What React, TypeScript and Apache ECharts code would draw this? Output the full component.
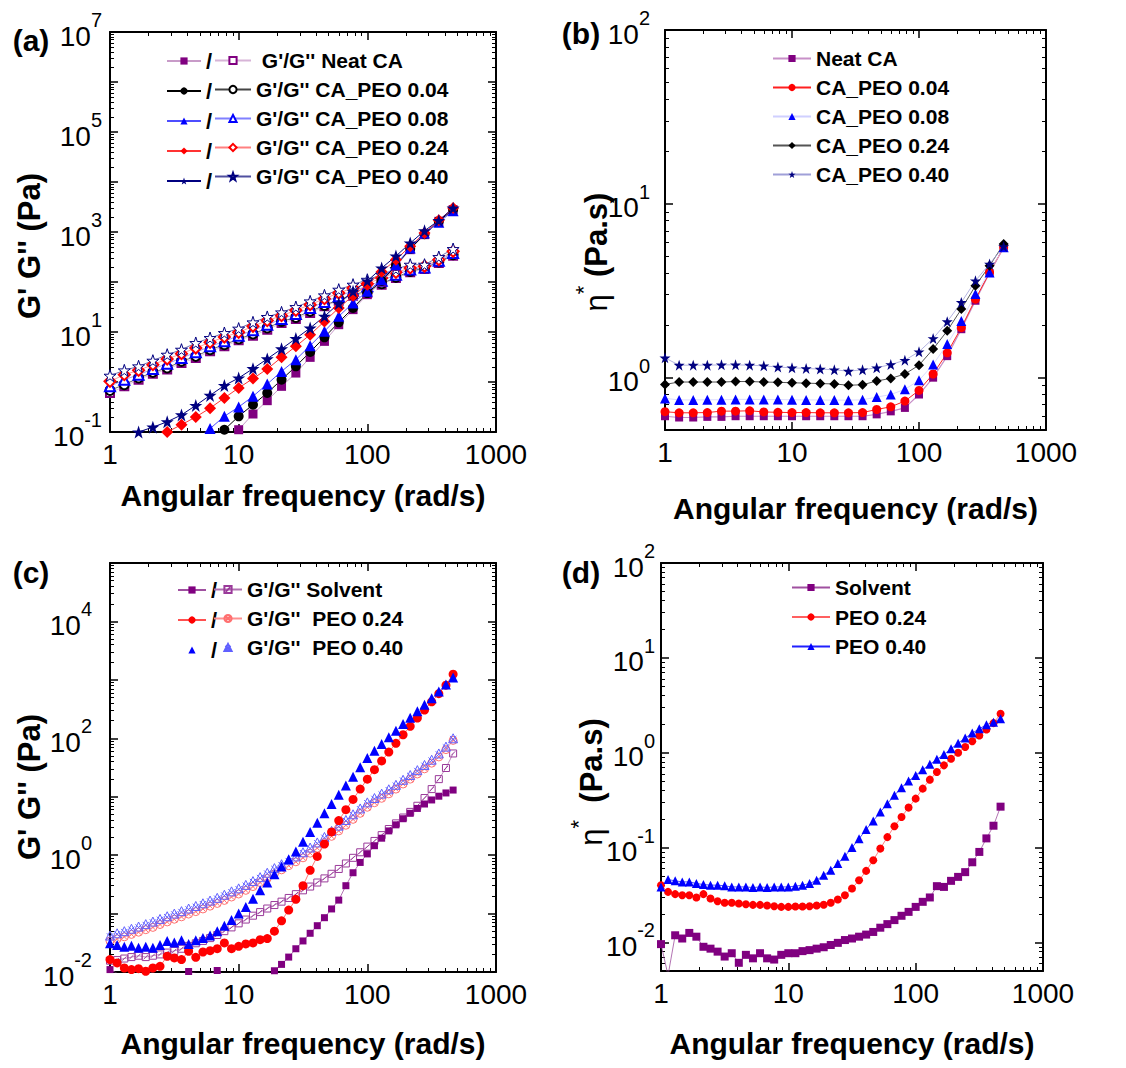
import React, { useEffect, useRef } from 'react';
import * as echarts from 'echarts';

// ---------- x values (rad/s) ----------
const freqAB = [1, 1.292, 1.668, 2.154, 2.783, 3.594, 4.642, 5.995, 7.743, 10, 12.92, 16.68, 21.54, 27.83, 35.94, 46.42, 59.95, 77.43, 100, 129.2, 166.8, 215.4, 278.3, 359.4, 464.2];
const freqCD = [1, 1.136, 1.292, 1.468, 1.668, 1.896, 2.154, 2.448, 2.783, 3.162, 3.594, 4.084, 4.642, 5.275, 5.995, 6.813, 7.743, 8.799, 10, 11.36, 12.92, 14.68, 16.68, 18.96, 21.54, 24.48, 27.83, 31.62, 35.94, 40.84, 46.42, 52.75, 59.95, 68.13, 77.43, 87.99, 100, 113.6, 129.2, 146.8, 166.8, 189.6, 215.4, 244.8, 278.3, 316.2, 359.4, 408.4, 464.2];

// ---------- (a) G' (filled) ----------
const aNeatGp = [null, null, null, null, null, null, null, null, 0.06, 0.111, 0.229, 0.423, 0.819, 1.51, 3.11, 6.5, 14.0, 28, 55.8, 100, 206, 443, 885, 1635, 2800];
const aP04Gp = [null, null, null, null, null, null, null, 0.06, 0.111, 0.206, 0.352, 0.603, 1.11, 2.06, 3.98, 7.82, 15.6, 30.2, 60, 105, 215, 460, 900, 1650, 2800];
const aP08Gp = [null, null, null, null, null, null, 0.07, 0.117, 0.206, 0.316, 0.517, 0.91, 1.63, 2.8, 5.33, 10.3, 20.6, 38, 65, 111, 222, 478, 955, 1560, 2650];
const aP24Gp = [null, null, null, 0.07, 0.1, 0.14, 0.2, 0.3, 0.48, 0.76, 1.17, 1.82, 3.11, 5.16, 8.84, 16.3, 30.2, 53.3, 88.4, 160, 280, 517, 955, 1710, 3020];
const aP40Gp = [null, 0.07, 0.1, 0.125, 0.16, 0.22, 0.34, 0.54, 0.85, 1.2, 1.85, 2.9, 4.6, 7.4, 12, 20.6, 37, 65, 105, 190, 330, 600, 1060, 1700, 3000];
// ---------- (a) G'' (hollow) ----------
const aNeatGpp = [0.6, 0.819, 1.11, 1.47, 1.77, 2.40, 3.02, 4.10, 5.16, 6.81, 8.45, 11.1, 15.1, 18.2, 24.0, 32.6, 42.4, 53.3, 60.3, 88.5, 120, 156, 182, 240, 336];
const aP04Gpp = [0.68, 0.885, 1.2, 1.56, 1.91, 2.59, 3.26, 4.43, 5.58, 7.24, 9.12, 12.0, 16.3, 19.6, 25.9, 34.1, 44.4, 55.8, 65.0, 92.7, 124, 163, 191, 251, 352];
const aP08Gpp = [0.819, 1.11, 1.40, 1.82, 2.33, 3.02, 3.92, 5.16, 6.5, 8.45, 10.8, 14.0, 18.2, 22.9, 30.2, 39.8, 51.6, 67.1, 81.8, 106, 140, 177, 196, 267, 380];
const aP24Gpp = [1.03, 1.40, 1.71, 2.22, 2.88, 3.69, 4.79, 6.21, 7.94, 9.84, 13.0, 16.9, 21.2, 27.1, 35.2, 46.4, 60.3, 75.9, 92.7, 120, 156, 191, 206, 280, 410];
const aP40Gpp = [1.34, 1.71, 2.06, 2.67, 3.52, 4.43, 6.03, 7.59, 9.55, 11.7, 15.6, 20.0, 24.7, 31.6, 41.0, 54.1, 70.3, 88.5, 111, 140, 182, 222, 222, 316, 457];

// ---------- (b) complex viscosity ----------
const bNeat = [0.60, 0.59, 0.59, 0.595, 0.595, 0.6, 0.6, 0.6, 0.6, 0.6, 0.6, 0.6, 0.6, 0.6, 0.6, 0.615, 0.64, 0.67, 0.8, 1.0, 1.33, 1.9, 2.77, 4.0, 5.6];
const bP04 = [0.637, 0.628, 0.628, 0.63, 0.642, 0.642, 0.645, 0.635, 0.632, 0.63, 0.63, 0.628, 0.628, 0.628, 0.63, 0.656, 0.68, 0.733, 0.845, 1.05, 1.39, 1.94, 2.83, 4.03, 5.62];
const bP08 = [0.76, 0.745, 0.745, 0.746, 0.746, 0.75, 0.75, 0.748, 0.748, 0.746, 0.745, 0.744, 0.743, 0.742, 0.746, 0.773, 0.80, 0.857, 0.965, 1.19, 1.56, 2.12, 3.03, 4.03, 5.62];
const bP24 = [0.915, 0.944, 0.944, 0.944, 0.944, 0.95, 0.95, 0.944, 0.94, 0.935, 0.93, 0.925, 0.92, 0.905, 0.91, 0.957, 0.99, 1.05, 1.18, 1.46, 1.86, 2.48, 3.38, 4.4, 5.88];
const bP40 = [1.30, 1.18, 1.18, 1.18, 1.185, 1.185, 1.18, 1.17, 1.15, 1.14, 1.13, 1.12, 1.11, 1.09, 1.11, 1.14, 1.19, 1.26, 1.41, 1.68, 2.10, 2.71, 3.61, 4.51, 5.68];

// ---------- (c) G' / G'' ----------
const cSolvGp = [0.011, 0.0095, 0.0085, 0.0088, 0.0078, 0.0092, 0.0098, 0.0082, 0.0075, 0.0095, 0.0088, 0.0102, 0.0095, 0.0085, 0.0092, 0.0106, 0.0088, 0.0078, 0.0072, 0.0068, 0.0065, 0.0075, 0.0085, 0.0105, 0.0135, 0.018, 0.025, 0.034, 0.046, 0.062, 0.085, 0.12, 0.17, 0.3, 0.5, 0.75, 1.05, 1.45, 1.95, 2.6, 3.3, 4.2, 5.2, 6.3, 7.5, 8.8, 10.2, 11.6, 13];
const cSolvGpp = [0.0156, 0.016, 0.017, 0.018, 0.019, 0.018, 0.019, 0.02, 0.0215, 0.023, 0.025, 0.028, 0.031, 0.034, 0.038, 0.043, 0.05, 0.058, 0.068, 0.079, 0.092, 0.106, 0.122, 0.14, 0.16, 0.185, 0.215, 0.25, 0.29, 0.34, 0.4, 0.48, 0.58, 0.72, 0.9, 1.12, 1.4, 1.75, 2.2, 2.8, 3.5, 4.4, 5.5, 7.0, 9.5, 13.5, 20, 31, 55];
const cP24Gp = [0.0163, 0.0143, 0.0117, 0.011, 0.0114, 0.0103, 0.0117, 0.0125, 0.0186, 0.0174, 0.0163, 0.0226, 0.0178, 0.022, 0.0232, 0.0251, 0.0314, 0.0251, 0.0275, 0.0302, 0.0314, 0.0358, 0.0373, 0.05, 0.075, 0.115, 0.175, 0.3, 0.55, 0.95, 1.55, 2.5, 3.9, 6.0, 9.0, 13.5, 20, 29, 41, 58, 82, 115, 160, 222, 305, 420, 580, 810, 1250];
const cP24Gpp = [0.034, 0.037, 0.04, 0.044, 0.048, 0.053, 0.058, 0.065, 0.072, 0.08, 0.088, 0.098, 0.108, 0.12, 0.134, 0.149, 0.168, 0.192, 0.216, 0.25, 0.29, 0.34, 0.4, 0.48, 0.56, 0.66, 0.77, 0.9, 1.08, 1.32, 1.65, 2.1, 2.6, 3.25, 4.1, 5.2, 6.6, 7.9, 9.4, 11.2, 13.5, 16.5, 20, 24.5, 30, 37.5, 48, 64, 92];
const cP40Gp = [0.031, 0.029, 0.027, 0.028, 0.026, 0.027, 0.026, 0.029, 0.034, 0.032, 0.035, 0.030, 0.035, 0.038, 0.042, 0.05, 0.062, 0.078, 0.1, 0.13, 0.18, 0.25, 0.34, 0.47, 0.64, 0.85, 1.15, 1.7, 2.5, 3.6, 5.2, 7.5, 10.8, 15.5, 22, 32, 46, 61, 80, 104, 135, 175, 225, 290, 375, 485, 630, 830, 1100];
const cP40Gpp = [0.042, 0.046, 0.05, 0.055, 0.06, 0.066, 0.073, 0.081, 0.09, 0.1, 0.11, 0.122, 0.135, 0.15, 0.167, 0.186, 0.21, 0.24, 0.27, 0.31, 0.36, 0.42, 0.5, 0.6, 0.7, 0.82, 0.95, 1.12, 1.35, 1.65, 2.05, 2.6, 3.2, 4.0, 5.0, 6.3, 8.0, 9.5, 11.3, 13.4, 16, 19.5, 23.5, 28.5, 35, 43, 55, 72, 100];

// ---------- (d) complex viscosity ----------
const dSolv = [0.0096, 0.0045, 0.0119, 0.011, 0.0126, 0.0115, 0.009, 0.0086, 0.008, 0.0071, 0.0077, 0.0061, 0.0074, 0.0068, 0.0077, 0.0068, 0.0066, 0.0074, 0.0077, 0.0077, 0.0081, 0.0083, 0.0086, 0.0089, 0.0094, 0.0099, 0.0106, 0.011, 0.0115, 0.0121, 0.0129, 0.0143, 0.0156, 0.0172, 0.0191, 0.021, 0.0237, 0.0268, 0.0298, 0.0392, 0.0385, 0.0446, 0.0491, 0.0551, 0.07, 0.09, 0.125, 0.17, 0.27];
const dP24 = [0.0401, 0.0341, 0.0323, 0.0315, 0.0315, 0.0298, 0.0323, 0.029, 0.0272, 0.0262, 0.0262, 0.0257, 0.0253, 0.0249, 0.0249, 0.0245, 0.0241, 0.0237, 0.0237, 0.0239, 0.0239, 0.0241, 0.0245, 0.025, 0.0262, 0.0284, 0.0315, 0.037, 0.0453, 0.0568, 0.0736, 0.0976, 0.129, 0.168, 0.21, 0.264, 0.328, 0.418, 0.52, 0.626, 0.736, 0.865, 1.0, 1.15, 1.32, 1.52, 1.76, 2.05, 2.57];
const dP40 = [0.0385, 0.046, 0.0446, 0.0435, 0.0435, 0.0418, 0.0408, 0.0402, 0.0402, 0.0395, 0.0385, 0.0385, 0.0385, 0.0379, 0.0385, 0.0379, 0.0385, 0.0385, 0.0385, 0.0392, 0.0402, 0.0418, 0.0453, 0.0512, 0.0577, 0.0679, 0.0811, 0.1, 0.124, 0.155, 0.191, 0.237, 0.29, 0.356, 0.428, 0.503, 0.577, 0.662, 0.754, 0.851, 0.96, 1.10, 1.26, 1.43, 1.61, 1.79, 1.97, 2.10, 2.28];

// ---------- labels ----------
const xTickLabels = ['1', '10', '100', '1000'];
const xTitle = 'Angular frequency (rad/s)';
const legendText: Record<string, string> = {
  a_gpp_neat: " G'/G'' Neat CA",
  a_gpp_04: "G'/G'' CA_PEO 0.04",
  a_gpp_08: "G'/G'' CA_PEO 0.08",
  a_gpp_24: "G'/G'' CA_PEO 0.24",
  a_gpp_40: "G'/G'' CA_PEO 0.40",
  b_neat: 'Neat CA',
  b_04: 'CA_PEO 0.04',
  b_08: 'CA_PEO 0.08',
  b_24: 'CA_PEO 0.24',
  b_40: 'CA_PEO 0.40',
  c_gpp_solv: "G'/G'' Solvent",
  c_gpp_24: "G'/G''  PEO 0.24",
  c_gpp_40: "G'/G''  PEO 0.40",
  d_solv: 'Solvent',
  d_24: 'PEO 0.24',
  d_40: 'PEO 0.40',
};

const FONT = "'Liberation Sans', Arial, Helvetica, sans-serif";
const STAR = 'path://M5,0L6.18,3.45L9.76,3.45L6.86,5.59L7.94,9.05L5,6.91L2.06,9.05L3.14,5.59L0.24,3.45L3.82,3.45Z';
const SQX = 'path://M0,0L10,0L10,10L0,10Z M2,8L8,2';
const CIX = 'path://M10,5A5,5,0,1,1,0,5A5,5,0,1,1,10,5Z M1.8,1.8L8.2,8.2 M8.2,1.8L1.8,8.2';
const TRX = 'path://M5,0L10,10L0,10Z M1.5,2.5L8.5,9.5 M8.5,2.5L1.5,9.5';

const PURPLE = '#800080';
const NAVY = '#000080';
const BLUE = '#0000ff';
const RED = '#ff0000';

function pts(xs: number[], ys: (number | null)[]) {
  const out: number[][] = [];
  xs.forEach((x, i) => {
    const y = ys[i];
    if (y != null) out.push([x, y]);
  });
  return out;
}

function ser(name: string, gi: number, xs: number[], ys: (number | null)[], symbol: string, size: number, itemStyle: any, lineColor: string, lineWidth: number, z = 2) {
  return {
    type: 'line',
    name,
    xAxisIndex: gi * 4,
    yAxisIndex: gi * 4,
    data: pts(xs, ys),
    symbol,
    symbolSize: size,
    showSymbol: true,
    showAllSymbol: true,
    itemStyle,
    lineStyle: lineWidth > 0 ? { color: lineColor, width: lineWidth } : { color: lineColor, width: 0, opacity: 0 },
    emphasis: { disabled: true },
    z,
    clip: true,
    animation: false,
  };
}

function minorVals(min: number, max: number) {
  const out: number[] = [];
  for (let e = Math.floor(Math.log10(min)) - 1; e <= Math.ceil(Math.log10(max)); e++) {
    for (let m = 2; m <= 9; m++) {
      const v = +(m * Math.pow(10, e)).toPrecision(6);
      if (v > min * 1.0001 && v < max * 0.9999) out.push(v);
    }
  }
  return out;
}

function expOf(v: number) {
  const l = Math.log10(v);
  const e = Math.round(l);
  return Math.abs(l - e) < 1e-6 ? e : null;
}

type Panel = { grid: any; yMin: number; yMax: number; showExp: (e: number) => boolean; yMargin: number; nameGap: number };

const panels: Panel[] = [
  { grid: { left: 110, top: 32, width: 386, height: 400 }, yMin: 0.1, yMax: 1e7, showExp: (e) => Math.abs(e % 2) === 1, yMargin: 8, nameGap: 48 },
  { grid: { left: 665, top: 30, width: 381, height: 400 }, yMin: 0.5, yMax: 100, showExp: () => true, yMargin: 15, nameGap: 63 },
  { grid: { left: 110, top: 563, width: 386, height: 409 }, yMin: 0.01, yMax: 1e5, showExp: (e) => e % 2 === 0, yMargin: 18, nameGap: 56 },
  { grid: { left: 661, top: 563, width: 382, height: 408 }, yMin: 0.005, yMax: 100, showExp: () => true, yMargin: 6, nameGap: 57 },
];

function buildAxes() {
  const xAxis: any[] = [];
  const yAxis: any[] = [];
  panels.forEach((p, gi) => {
    const common = {
      type: 'log', logBase: 10, gridIndex: gi, splitNumber: 10,
      splitLine: { show: false }, minorTick: { show: false }, minorSplitLine: { show: false },
      axisPointer: { show: false }, silent: true,
    };
    const line = { show: true, onZero: false, lineStyle: { color: '#000', width: 2 } };
    const major = { show: true, inside: true, length: 8, lineStyle: { color: '#000', width: 1.5 } };
    const xMinor = { show: true, inside: true, length: 4, customValues: minorVals(1, 1000), lineStyle: { color: '#000', width: 1 } };
    const yMinor = { show: true, inside: true, length: 4, customValues: minorVals(p.yMin, p.yMax), lineStyle: { color: '#000', width: 1 } };
    // x axes
    xAxis.push({
      ...common, min: 1, max: 1000, position: 'bottom', axisLine: line, axisTick: major,
      axisLabel: {
        show: true, color: '#000', fontSize: 28, fontFamily: FONT, margin: 8,
        formatter: (v: number) => { const e = expOf(v); return e == null ? '' : xTickLabels[e] ?? ''; },
      },
      name: xTitle, nameLocation: 'middle', nameGap: p.nameGap,
      nameTextStyle: { color: '#000', fontSize: 30, fontWeight: 'bold', fontFamily: FONT },
    });
    xAxis.push({ ...common, min: 1, max: 1000, position: 'bottom', axisLine: { show: false }, axisTick: xMinor, axisLabel: { show: false } });
    xAxis.push({ ...common, min: 1, max: 1000, position: 'top', axisLine: line, axisTick: major, axisLabel: { show: false } });
    xAxis.push({ ...common, min: 1, max: 1000, position: 'top', axisLine: { show: false }, axisTick: xMinor, axisLabel: { show: false } });
    // y axes
    yAxis.push({
      ...common, min: p.yMin, max: p.yMax, position: 'left', axisLine: line, axisTick: major,
      axisLabel: {
        show: true, margin: p.yMargin,
        formatter: (v: number) => {
          const e = expOf(v);
          if (e == null || !p.showExp(e)) return '';
          return '{b|10}{s|' + (e < 0 ? '-' + Math.abs(e) : String(e)) + '}';
        },
        rich: {
          b: { fontSize: 28, fontFamily: FONT, color: '#000', padding: [12, 0, 4, 0] },
          s: { fontSize: 20, fontFamily: FONT, color: '#000', verticalAlign: 'top' },
        },
      },
    });
    yAxis.push({ ...common, min: p.yMin, max: p.yMax, position: 'left', axisLine: { show: false }, axisTick: yMinor, axisLabel: { show: false } });
    yAxis.push({ ...common, min: p.yMin, max: p.yMax, position: 'right', axisLine: line, axisTick: major, axisLabel: { show: false } });
    yAxis.push({ ...common, min: p.yMin, max: p.yMax, position: 'right', axisLine: { show: false }, axisTick: yMinor, axisLabel: { show: false } });
  });
  return { xAxis, yAxis };
}

function buildSeries() {
  const f = (c: string) => ({ color: c });
  const h = (c: string) => ({ color: '#fff', borderColor: c, borderWidth: 1 });
  const t = (c: string) => ({ color: 'rgba(0,0,0,0)', borderColor: c, borderWidth: 1 });
  return [
    // (a) G''
    ser('a_gpp_neat', 0, freqAB, aNeatGpp, 'emptyRect', 8, f(PURPLE), '#d7b4d7', 0.8),
    ser('a_gpp_04', 0, freqAB, aP04Gpp, 'emptyCircle', 9, f('#000'), '#444', 0.8),
    ser('a_gpp_08', 0, freqAB, aP08Gpp, 'emptyTriangle', 10, f(BLUE), '#8080ff', 0.8),
    ser('a_gpp_24', 0, freqAB, aP24Gpp, 'emptyDiamond', 11, f(RED), '#ff8080', 0.8),
    ser('a_gpp_40', 0, freqAB, aP40Gpp, STAR, 12, h(NAVY), '#5050a0', 0.8),
    // (a) G'
    ser('a_gp_neat', 0, freqAB, aNeatGp, 'rect', 9, f(PURPLE), '#c89bc8', 1, 3),
    ser('a_gp_04', 0, freqAB, aP04Gp, 'circle', 10, f('#000'), '#000', 1, 3),
    ser('a_gp_08', 0, freqAB, aP08Gp, 'triangle', 11, f(BLUE), '#4d4dff', 1, 3),
    ser('a_gp_24', 0, freqAB, aP24Gp, 'diamond', 12, f(RED), '#ff3333', 1, 3),
    ser('a_gp_40', 0, freqAB, aP40Gp, STAR, 13, f(NAVY), NAVY, 1, 3),
    // (b)
    ser('b_neat', 1, freqAB, bNeat, 'rect', 8, f(PURPLE), '#c890c8', 1.2),
    ser('b_04', 1, freqAB, bP04, 'circle', 9, f(RED), '#ff2020', 1),
    ser('b_08', 1, freqAB, bP08, 'triangle', 10, f(BLUE), '#d0d0ff', 0.8),
    ser('b_24', 1, freqAB, bP24, 'diamond', 10, f('#000'), '#555', 1),
    ser('b_40', 1, freqAB, bP40, STAR, 11, f(NAVY), '#a0a0d8', 0.8),
    // (c)
    ser('c_gpp_solv', 2, freqCD, cSolvGpp, SQX, 7, t('#9a3a9a'), '#b070b0', 0.8),
    ser('c_gpp_24', 2, freqCD, cP24Gpp, CIX, 8, t('#ff7070'), '#ff9090', 0.8),
    ser('c_gpp_40', 2, freqCD, cP40Gpp, TRX, 9, t('#6060ff'), '#8080ff', 0),
    ser('c_gp_solv', 2, freqCD, cSolvGp, 'rect', 7, f(PURPLE), '#a050a0', 0.8, 3),
    ser('c_gp_24', 2, freqCD, cP24Gp, 'circle', 9, f(RED), '#ff5050', 0.8, 3),
    ser('c_gp_40', 2, freqCD, cP40Gp, 'triangle', 10, f(BLUE), BLUE, 0, 3),
    // (d)
    ser('d_solv', 3, freqCD, dSolv, 'rect', 8, f(PURPLE), '#a050a0', 0.8),
    ser('d_24', 3, freqCD, dP24, 'circle', 8, f(RED), '#ff6060', 0.8),
    ser('d_40', 3, freqCD, dP40, 'triangle', 9, f(BLUE), '#2020ff', 0.8),
  ];
}

function buildLegends() {
  const base = {
    orient: 'vertical', padding: 0, itemHeight: 9, itemGap: 8, selectedMode: false,
    textStyle: { color: '#000', fontSize: 21, fontWeight: 'bold', fontFamily: FONT, lineHeight: 21 },
    formatter: (n: string) => legendText[n] ?? n,
  };
  const slash = {
    ...base,
    formatter: () => '/',
    textStyle: { color: '#000', fontSize: 22, fontWeight: 'bold', fontFamily: FONT, lineHeight: 21 },
  };
  return [
    { ...slash, left: 166, top: 50, itemWidth: 34, data: ['a_gp_neat', 'a_gp_04', 'a_gp_08', 'a_gp_24', 'a_gp_40'] },
    { ...base, left: 214, top: 50, itemWidth: 36, data: ['a_gpp_neat', 'a_gpp_04', 'a_gpp_08', 'a_gpp_24', 'a_gpp_40'] },
    { ...base, left: 772, top: 48, itemWidth: 38, data: ['b_neat', 'b_04', 'b_08', 'b_24', 'b_40'] },
    { ...slash, left: 177, top: 579, itemWidth: 28, data: ['c_gp_solv', 'c_gp_24', 'c_gp_40'] },
    { ...base, left: 213, top: 579, itemWidth: 28, data: ['c_gpp_solv', 'c_gpp_24', 'c_gpp_40'] },
    { ...base, left: 791, top: 577, itemWidth: 38, itemGap: 8.5, data: ['d_solv', 'd_24', 'd_40'] },
  ];
}

function buildGraphics() {
  const lbl = (text: string, x: number, y: number) => ({
    type: 'text', x, y, silent: true,
    style: { text, font: `bold 30px ${FONT}`, fill: '#000', align: 'center', verticalAlign: 'middle' },
  });
  const yName = (x: number, y: number) => ({
    type: 'text', x, y, rotation: Math.PI / 2, silent: true,
    style: { text: "G' G'' (Pa)", font: `bold 31px ${FONT}`, fill: '#000', align: 'center', verticalAlign: 'middle' },
  });
  const etaName = (x: number, y: number, gap: string) => ({
    type: 'text', x, y, rotation: Math.PI / 2, silent: true,
    style: {
      text: '{e|η}{s|*}{n|' + gap + '(Pa.s)}', align: 'center', verticalAlign: 'middle',
      rich: {
        e: { fontSize: 31, fontFamily: FONT, fill: '#000', padding: [8, 0, 0, 0] },
        s: { fontSize: 22, fontFamily: FONT, fill: '#000', verticalAlign: 'top' },
        n: { fontSize: 31, fontWeight: 'bold', fontFamily: FONT, fill: '#000', padding: [8, 0, 0, 0] },
      },
    },
  });
  return [
    lbl('(a)', 31, 40), lbl('(b)', 581, 33), lbl('(c)', 31, 572), lbl('(d)', 581, 572),
    yName(29, 246), yName(29, 787),
    etaName(592, 252, ' '), etaName(587, 782, '  '),
  ];
}

export default function App() {
  const ref = useRef<HTMLDivElement>(null);
  useEffect(() => {
    if (!ref.current) return;
    const chart = echarts.init(ref.current, undefined, { renderer: 'svg' });
    const { xAxis, yAxis } = buildAxes();
    chart.setOption({
      animation: false,
      backgroundColor: '#fff',
      textStyle: { fontFamily: FONT },
      grid: panels.map((p) => ({ ...p.grid, containLabel: false, outerBoundsMode: 'none' })),
      xAxis,
      yAxis,
      legend: buildLegends(),
      series: buildSeries(),
      graphic: buildGraphics(),
      tooltip: { show: false },
    });
    return () => chart.dispose();
  }, []);
  return <div ref={ref} style={{ position: 'absolute', left: 0, top: 0, width: 1126, height: 1068, background: '#fff' }} />;
}
